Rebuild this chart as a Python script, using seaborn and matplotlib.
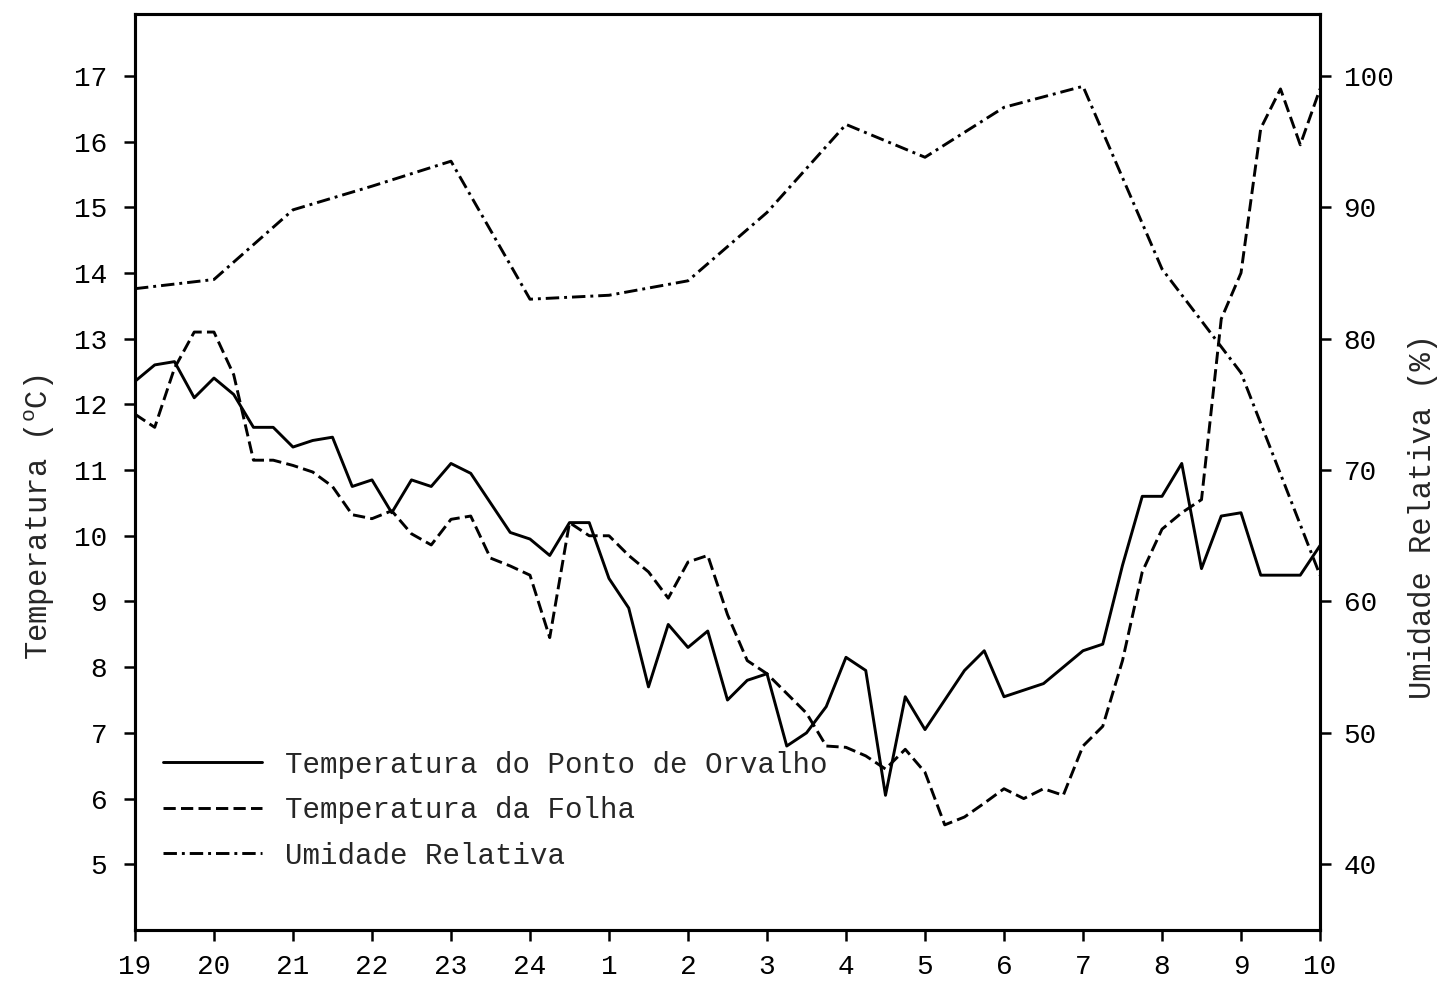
import numpy as np
import pandas as pd
import matplotlib
matplotlib.use("Agg")
import matplotlib.pyplot as plt
import seaborn as sns

# hours after 19h, sampled every 15 min for the two temperatures
t_quarter = np.arange(0, 15.25, 0.25)
# hourly readings for relative humidity
t_hour = np.arange(0, 16)
hour_labels = ['19', '20', '21', '22', '23', '24', '1', '2', '3', '4',
               '5', '6', '7', '8', '9', '10']

# dew point temperature (C) - solid line
dew_point = [12.35, 12.6, 12.65, 12.1, 12.4, 12.15, 11.65, 11.65, 11.35, 11.45,
             11.5, 10.75, 10.85, 10.35, 10.85, 10.75, 11.1, 10.95, 10.5, 10.05,
             9.95, 9.7, 10.2, 10.2, 9.35, 8.9, 7.7, 8.65, 8.3, 8.55,
             7.5, 7.8, 7.9, 6.8, 7.0, 7.4, 8.15, 7.95, 6.05, 7.55,
             7.05, 7.5, 7.95, 8.25, 7.55, 7.65, 7.75, 8.0, 8.25, 8.35,
             9.55, 10.6, 10.6, 11.1, 9.5, 10.3, 10.35, 9.4, 9.4, 9.4,
             9.85]

# leaf temperature (C) - dashed line
leaf_temp = [11.85, 11.65, 12.55, 13.1, 13.1, 12.45, 11.15, 11.15, 11.07, 10.97,
             10.75, 10.32, 10.26, 10.38, 10.03, 9.86, 10.25, 10.3, 9.66, 9.54,
             9.4, 8.45, 10.2, 10.0, 10.0, 9.7, 9.45, 9.05, 9.6, 9.7,
             8.8, 8.1, 7.9, 7.6, 7.3, 6.8, 6.78, 6.65, 6.45, 6.75,
             6.4, 5.6, 5.72, 5.93, 6.15, 6.0, 6.15, 6.05, 6.8, 7.1,
             8.1, 9.45, 10.1, 10.35, 10.55, 13.3, 14.0, 16.2, 16.8, 15.95,
             16.8]

# relative humidity (%) - dash-dot line
rel_humidity = [83.8, 84.5, 89.8, 91.6, 93.5, 83.0, 83.3, 84.4,
                89.6, 96.3, 93.8, 97.6, 99.2, 85.3, 77.4, 62.0]

legend_labels = ['Temperatura do Ponto de Orvalho',
                 'Temperatura da Folha',
                 'Umidade Relativa']

sns.set_style('ticks')
plt.rcParams['font.family'] = ['Liberation Mono', 'DejaVu Sans']
plt.rcParams['mathtext.fontset'] = 'custom'
plt.rcParams['mathtext.rm'] = 'Liberation Mono'

fig = plt.figure(figsize=(14.42, 9.88), dpi=100)
ax = fig.add_axes([0.0936, 0.0587, 0.8218, 0.9271])
ax2 = ax.twinx()

lw = 2.1
sns.lineplot(x=t_quarter, y=dew_point, ax=ax, color='black', linewidth=lw,
             legend=False)
sns.lineplot(x=t_quarter, y=leaf_temp, ax=ax, color='black', linewidth=lw,
             linestyle=(0, (4.2, 1.8)), legend=False)
sns.lineplot(x=t_hour, y=rel_humidity, ax=ax2, color='black', linewidth=lw,
             linestyle=(0, (4.6, 1.7, 1.0, 1.7)), legend=False)

ax.set_xlim(0, 15)
ax.set_ylim(4.0, 17.94)
ax2.set_ylim(35.0, 104.7)

ax.set_xticks(t_hour)
ax.set_xticklabels(hour_labels)
ax.set_yticks(range(5, 18))
ax2.set_yticks(range(40, 101, 10))

for a in (ax, ax2):
    for s in a.spines.values():
        s.set_linewidth(2.2)
        s.set_color('black')
    a.tick_params(direction='out', length=8, width=1.8, labelsize=20,
                  colors='black', pad=9)
ax.tick_params(axis='y', pad=12)

ax.set_ylabel(r'Temperatura ($\mathregular{^{o}C}$)', fontsize=22)
ax.yaxis.set_label_coords(-0.066, 0.451)
ax2.set_ylabel('Umidade Relativa (%)', fontsize=22)
ax2.yaxis.set_label_coords(1.074, 0.451)

handles = ax.get_lines() + ax2.get_lines()
ax2.legend(handles, legend_labels, loc='center left',
           bbox_to_anchor=(0.0236, 0.131), frameon=False, borderpad=0,
           borderaxespad=0, handlelength=3.4, handletextpad=0.8,
           labelspacing=0.6, fontsize=21)

fig.savefig('out.png', dpi=100)
